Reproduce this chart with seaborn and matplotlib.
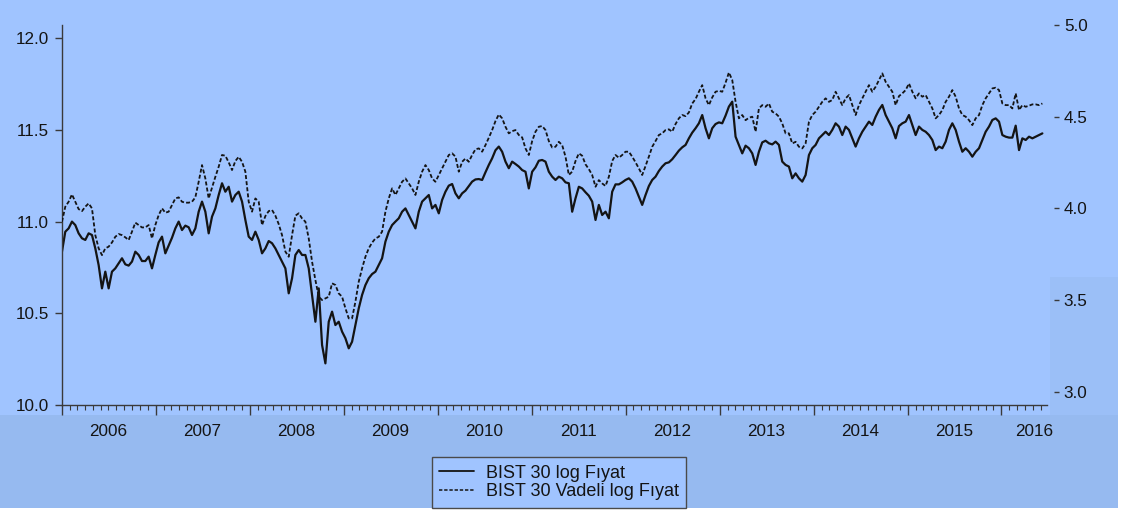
import pandas as pd
import matplotlib
matplotlib.use("Agg")
import matplotlib.pyplot as plt
import matplotlib.dates as mdates
from matplotlib.patches import Rectangle
from matplotlib.lines import Line2D
from matplotlib.ticker import FormatStrFormatter, NullFormatter
from matplotlib.transforms import blended_transform_factory
import seaborn as sns

# BIST 30 spot index, natural log of price (left axis), sampled every ~13 days
spot_2006_2008 = [
    10.836, 10.945, 10.963, 11.000, 10.981, 10.936, 10.909, 10.900, 10.936, 10.927,
    10.854, 10.763, 10.636, 10.727, 10.636, 10.727, 10.745, 10.772, 10.800, 10.767,
    10.760, 10.782, 10.836, 10.818, 10.785, 10.785, 10.809, 10.745, 10.818, 10.887,
    10.918, 10.827, 10.869, 10.912, 10.963, 11.000, 10.954, 10.978, 10.969, 10.927,
    10.963, 11.054, 11.109, 11.054, 10.936, 11.027, 11.072, 11.145, 11.209, 11.163,
    11.190, 11.109, 11.145, 11.163, 11.109, 11.009, 10.918, 10.900, 10.945, 10.900,
    10.827, 10.854, 10.894, 10.882, 10.854, 10.818, 10.782, 10.745, 10.609, 10.691,
    10.818,
]
spot_2008_2011 = [
    10.845, 10.818, 10.818, 10.745, 10.600, 10.454, 10.636, 10.327, 10.227, 10.454,
    10.509, 10.436, 10.454, 10.400, 10.364, 10.309, 10.345, 10.436, 10.527, 10.600,
    10.654, 10.691, 10.714, 10.727, 10.763, 10.800, 10.891, 10.945, 10.981, 11.000,
    11.018, 11.054, 11.072, 11.036, 11.000, 10.963, 11.054, 11.109, 11.127, 11.145,
    11.072, 11.091, 11.045, 11.118, 11.163, 11.196, 11.205, 11.154, 11.127, 11.154,
    11.169, 11.194, 11.218, 11.230, 11.232, 11.227, 11.269, 11.309, 11.345, 11.389,
    11.409, 11.381, 11.327, 11.291, 11.327, 11.314, 11.300, 11.281, 11.272, 11.181,
    11.272, 11.296, 11.332,
]
spot_2011_2013 = [
    11.336, 11.327, 11.272, 11.245, 11.227, 11.245, 11.236, 11.214, 11.209, 11.054,
    11.127, 11.190, 11.181, 11.160, 11.141, 11.109, 11.009, 11.091, 11.036, 11.054,
    11.018, 11.163, 11.203, 11.203, 11.214, 11.227, 11.236, 11.218, 11.181, 11.136,
    11.091, 11.145, 11.194, 11.227, 11.245, 11.276, 11.300, 11.318, 11.323, 11.340,
    11.363, 11.387, 11.405, 11.418, 11.454, 11.485, 11.509, 11.536, 11.581, 11.509,
    11.454, 11.509, 11.532, 11.541, 11.536, 11.578, 11.627, 11.654, 11.463, 11.418,
    11.372, 11.414, 11.400, 11.372, 11.309, 11.381, 11.432, 11.441, 11.427, 11.421,
    11.436, 11.418, 11.327, 11.309, 11.300,
]
spot_2013_2016 = [
    11.236, 11.263, 11.236, 11.218, 11.254, 11.363, 11.400, 11.418, 11.454, 11.472,
    11.490, 11.472, 11.500, 11.536, 11.518, 11.472, 11.518, 11.500, 11.454, 11.409,
    11.454, 11.490, 11.518, 11.545, 11.527, 11.572, 11.609, 11.636, 11.581, 11.545,
    11.509, 11.454, 11.521, 11.536, 11.545, 11.581, 11.527, 11.472, 11.518, 11.500,
    11.490, 11.472, 11.445, 11.390, 11.409, 11.400, 11.436, 11.500, 11.536, 11.500,
    11.436, 11.381, 11.400, 11.381, 11.354, 11.381, 11.400, 11.445, 11.490, 11.518,
    11.554, 11.563, 11.545, 11.472, 11.463, 11.458, 11.458, 11.523, 11.390, 11.454,
    11.445, 11.463, 11.454, 11.463, 11.472, 11.481,
]

# BIST 30 index futures, natural log of price (right axis)
fut_2006_2008 = [
    3.927, 4.009, 4.036, 4.076, 4.036, 3.996, 3.985, 4.009, 4.027, 4.000,
    3.854, 3.782, 3.745, 3.782, 3.791, 3.814, 3.845, 3.860, 3.854, 3.842,
    3.827, 3.873, 3.922, 3.909, 3.896, 3.896, 3.909, 3.836, 3.909, 3.963,
    4.000, 3.976, 3.982, 4.018, 4.054, 4.060, 4.036, 4.031, 4.031, 4.036,
    4.060, 4.145, 4.236, 4.163, 4.054, 4.114, 4.172, 4.227, 4.291, 4.287,
    4.251, 4.209, 4.258, 4.281, 4.254, 4.200, 4.036, 3.982, 4.054, 4.036,
    3.909, 3.958, 3.985, 3.991, 3.960, 3.914, 3.854, 3.764, 3.736, 3.854,
    3.960,
]
fut_2008_2011 = [
    3.973, 3.945, 3.927, 3.836, 3.709, 3.609, 3.518, 3.500, 3.509, 3.518,
    3.591, 3.582, 3.536, 3.518, 3.455, 3.400, 3.400, 3.491, 3.600, 3.673,
    3.736, 3.782, 3.813, 3.836, 3.845, 3.873, 3.982, 4.054, 4.109, 4.073,
    4.109, 4.145, 4.163, 4.136, 4.109, 4.073, 4.145, 4.200, 4.236, 4.209,
    4.163, 4.145, 4.182, 4.218, 4.254, 4.291, 4.300, 4.282, 4.200, 4.254,
    4.272, 4.254, 4.291, 4.322, 4.327, 4.309, 4.345, 4.385, 4.427, 4.476,
    4.512, 4.491, 4.445, 4.409, 4.421, 4.427, 4.400, 4.387, 4.327, 4.291,
    4.367, 4.418, 4.445,
]
fut_2011_2013 = [
    4.449, 4.427, 4.367, 4.332, 4.336, 4.363, 4.345, 4.282, 4.182, 4.200,
    4.258, 4.300, 4.287, 4.240, 4.214, 4.182, 4.118, 4.154, 4.136, 4.122,
    4.172, 4.258, 4.291, 4.276, 4.291, 4.309, 4.309, 4.282, 4.251, 4.218,
    4.182, 4.231, 4.282, 4.336, 4.367, 4.400, 4.409, 4.427, 4.431, 4.418,
    4.460, 4.491, 4.509, 4.503, 4.523, 4.572, 4.596, 4.636, 4.672, 4.600,
    4.563, 4.605, 4.636, 4.641, 4.636, 4.685, 4.741, 4.700, 4.581, 4.491,
    4.509, 4.481, 4.494, 4.500, 4.418, 4.545, 4.563, 4.554, 4.572, 4.527,
    4.518, 4.500, 4.463, 4.409, 4.409,
]
fut_2013_2016 = [
    4.354, 4.363, 4.336, 4.327, 4.354, 4.472, 4.509, 4.527, 4.554, 4.581,
    4.600, 4.581, 4.591, 4.636, 4.600, 4.563, 4.600, 4.618, 4.563, 4.509,
    4.563, 4.600, 4.636, 4.672, 4.636, 4.663, 4.700, 4.736, 4.690, 4.663,
    4.636, 4.563, 4.612, 4.627, 4.645, 4.681, 4.636, 4.600, 4.627, 4.609,
    4.618, 4.581, 4.545, 4.491, 4.509, 4.536, 4.581, 4.609, 4.645, 4.609,
    4.545, 4.509, 4.500, 4.481, 4.454, 4.491, 4.509, 4.563, 4.600, 4.627,
    4.654, 4.658, 4.645, 4.572, 4.563, 4.563, 4.545, 4.627, 4.536, 4.563,
    4.554, 4.560, 4.567, 4.567, 4.563, 4.572,
]

series_labels = ["BIST 30 log Fıyat", "BIST 30 Vadeli log Fıyat"]
year_labels = [str(y) for y in range(2006, 2017)]
left_ticks = [10.0, 10.5, 11.0, 11.5, 12.0]
right_ticks = [3.0, 3.5, 4.0, 4.5, 5.0]

spot = spot_2006_2008 + spot_2008_2011 + spot_2011_2013 + spot_2013_2016
fut = fut_2006_2008 + fut_2008_2011 + fut_2011_2013 + fut_2013_2016
dates = pd.date_range("2006-01-02", "2016-06-08", periods=len(spot))
df = pd.DataFrame({"date": dates, "spot": spot, "fut": fut})

sns.set_theme(style="ticks")
plt.rcParams["font.family"] = ["Liberation Sans", "DejaVu Sans"]

W, H = 1126, 514
LIGHT = "#A0C4FF"
DARK = "#96BAF0"
INK = "#141414"
AXC = "#3a3a3a"

fig = plt.figure(figsize=(W / 100, H / 100), dpi=100)
fig.patch.set_facecolor("white")
# panel background with the slightly darker lower band
fig.add_artist(Rectangle((0, 6 / H), 1118 / W, 1 - 6 / H, transform=fig.transFigure,
                         facecolor=LIGHT, edgecolor="none", zorder=-5))
fig.add_artist(Rectangle((0, 6 / H), 1118 / W, 93 / H, transform=fig.transFigure,
                         facecolor=DARK, edgecolor="none", zorder=-4))
fig.add_artist(Rectangle((1050 / W, 6 / H), 68 / W, 231 / H, transform=fig.transFigure,
                         facecolor="#9BBFF7", edgecolor="none", zorder=-4.5))

ax = fig.add_axes([61.7 / W, 109 / H, 985.3 / W, 380 / H])
ax.set_facecolor("none")
ax2 = ax.twinx()
ax2.set_facecolor("none")

sns.lineplot(data=df, x="date", y="spot", ax=ax, color=INK, linewidth=1.6, legend=False)
sns.lineplot(data=df, x="date", y="fut", ax=ax2, color=INK, linewidth=1.3, legend=False)
dash_pattern = (2.2, 1.2)
ax2.lines[0].set_dashes(dash_pattern)

ax.set_xlim(pd.Timestamp("2006-01-01"), pd.Timestamp("2016-06-26"))
ax.set_ylim(10.0, 12.072)
ax2.set_ylim(2.9275, 5.0)
ax.set_xlabel("")
ax.set_ylabel("")
ax2.set_ylabel("")

ax.set_yticks(left_ticks)
ax.yaxis.set_major_formatter(FormatStrFormatter("%.1f"))
ax2.set_yticks(right_ticks)
ax2.yaxis.set_major_formatter(FormatStrFormatter("%.1f"))

ax.xaxis.set_major_locator(mdates.YearLocator())
ax.xaxis.set_minor_locator(mdates.MonthLocator())
ax.xaxis.set_major_formatter(NullFormatter())
ax.xaxis.set_minor_formatter(NullFormatter())

for side in ["top", "right"]:
    ax.spines[side].set_visible(False)
for side in ["left", "bottom"]:
    ax.spines[side].set_color(AXC)
    ax.spines[side].set_linewidth(1.0)
for side in ["top", "left", "bottom"]:
    ax2.spines[side].set_visible(False)
ax2.spines["right"].set_position(("outward", 5))
ax2.spines["right"].set_visible(False)

ax.tick_params(axis="x", which="major", direction="out", length=7.2, width=1.0, color=AXC)
ax.tick_params(axis="x", which="minor", direction="out", length=3.6, width=0.8, color=AXC)
ax.tick_params(axis="y", direction="out", length=5, width=1.0, color=AXC, pad=4,
               labelsize=12.3, labelcolor=INK)
ax2.tick_params(axis="y", direction="out", length=3.6, width=1.0, color=AXC, pad=3.5,
                labelsize=12.3, labelcolor=INK)

# year labels centred in each calendar year's span
trans = blended_transform_factory(ax.transData, ax.transAxes)
for lab in year_labels:
    y = int(lab)
    if y < 2016:
        xpos = pd.Timestamp(f"{y}-07-01")
    else:
        xpos = pd.Timestamp(f"{y}-05-07")
    ax.text(mdates.date2num(xpos), -0.071, lab, transform=trans, ha="center", va="center",
            fontsize=12.3, color=INK)

handles = [
    Line2D([], [], color=INK, linewidth=1.3),
    Line2D([], [], color=INK, linewidth=1.1, dashes=dash_pattern),
]
leg = fig.legend(handles, series_labels, loc="center", bbox_to_anchor=(559 / W, 1 - 482.5 / H),
                 frameon=True, fancybox=False, edgecolor="#4a4a4a", facecolor=LIGHT,
                 framealpha=1, fontsize=13, handlelength=1.9, handletextpad=0.65,
                 labelspacing=0.1, borderpad=0.4, borderaxespad=0)
leg.get_frame().set_linewidth(1.0)
for t in leg.get_texts():
    t.set_color(INK)

fig.savefig("out.png", dpi=100, facecolor=fig.get_facecolor())
